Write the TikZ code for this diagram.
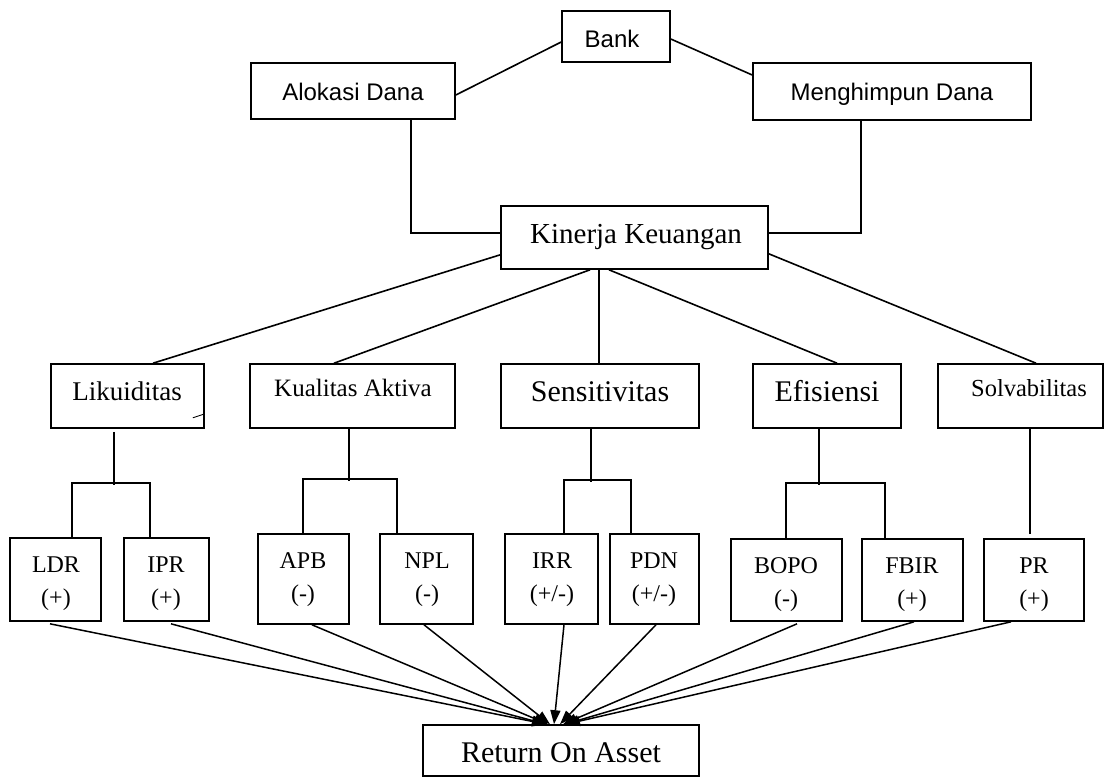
\documentclass[tikz,border=0pt]{standalone}
\usepackage{fontspec}
\setmainfont{Liberation Serif}
\newfontfamily\arialfont{Liberation Sans}
\usetikzlibrary{fit,arrows.meta}
\newcommand\leafnode[8]{%
  \node[box, fit={(#2,#4)(#3,#5)}] (#1) {};
  \node[txt=24] (#1a) at (#6,#4+34) {#7};
  \node[txt=24] (#1b) at (#6,#4+67) {#8};
}
\begin{document}
\begin{tikzpicture}[x=1pt,y=-1pt,line width=1.6pt,
  box/.style={draw, inner sep=0pt, line width=1.6pt},
  txt/.style={font=\fontsize{#1}{#1}\selectfont, inner sep=0pt, anchor=base},
  stxt/.style={font=\arialfont\fontsize{#1}{#1}\selectfont, inner sep=0pt, anchor=base},
  arr/.style={-{Triangle[length=14pt,width=10pt]}, line width=1.5pt}]
\useasboundingbox (0,0) rectangle (1116,780);

% top level
\node[box, fit={(562,11)(670,62)}] (bank) {};
\node[stxt=24] (bankT) at (612,47) {Bank};
\node[box, fit={(251,63)(455,119)}] (alok) {};
\node[stxt=24] (alokT) at (353,100) {Alokasi Dana};
\node[box, fit={(753,63)(1031,120)}] (men) {};
\node[stxt=24] (menT) at (892,100) {Menghimpun Dana};
\node[box, fit={(501,206)(768,269)}] (kin) {};
\node[txt=29] (kinT) at (636,243) {Kinerja Keuangan};

% middle level
\node[box, fit={(51,364)(204,428)}] (lik) {};
\node[txt=27] (likT) at (127,400) {Likuiditas};
\node[box, fit={(250,364)(455,428)}] (kua) {};
\node[txt=25] (kuaT) at (353,396) {Kualitas Aktiva};
\node[box, fit={(501,364)(699,428)}] (sen) {};
\node[txt=30] (senT) at (600,401) {Sensitivitas};
\node[box, fit={(753,364)(901,428)}] (efi) {};
\node[txt=30] (efiT) at (827,401) {Efisiensi};
\node[box, fit={(938,364)(1103,428)}] (sol) {};
\node[txt=24.5] (solT) at (1029,396) {Solvabilitas};

% leaves
\leafnode{ldr}{10}{101}{538}{621}{56}{LDR}{(+)}
\leafnode{ipr}{124}{209}{538}{621}{166}{IPR}{(+)}
\leafnode{apb}{258}{349}{534}{624}{303}{APB}{(-)}
\leafnode{npl}{380}{473}{534}{624}{427}{NPL}{(-)}
\leafnode{irr}{505}{598}{534}{624}{552}{IRR}{(+/-)}
\leafnode{pdn}{610}{699}{534}{624}{654}{PDN}{(+/-)}
\leafnode{bopo}{731}{842}{539}{621}{786}{BOPO}{(-)}
\leafnode{fbir}{862}{963}{539}{621}{912}{FBIR}{(+)}
\leafnode{pr}{984}{1084}{539}{621}{1034}{PR}{(+)}

\node[box, fit={(423,725)(699,776)}] (roa) {};
\node[txt=30] (roaT) at (561,762) {Return On Asset};

% top connectors
\draw ([yshift=-4pt]alok.east) -- ([yshift=-5.5pt]bank.west);
\draw ([yshift=-2.5pt]bank.east) -- ([yshift=16.5pt]men.west);
\draw ([xshift=58pt]alok.south) |- ([yshift=4.5pt]kin.west);
\draw ([xshift=-31pt]men.south) |- ([yshift=4.5pt]kin.east);

% kinerja to categories
\draw ([yshift=15pt]kin.south west) -- ([xshift=25.5pt]lik.north);
\draw ([xshift=-44.5pt]kin.south) -- ([xshift=-18.5pt]kua.north);
\draw ([xshift=-35.5pt]kin.south) coordinate (ks) -- (ks |- sen.north);
\draw ([xshift=-25.5pt]kin.south) -- ([xshift=10pt]efi.north);
\draw ([yshift=16pt]kin.south east) -- ([xshift=15.5pt]sol.north);

% Likuiditas stray tick
\draw[line width=0.9pt] ([xshift=-12pt,yshift=11pt]lik.south east) -- ([yshift=15pt]lik.south east);

% category to leaves
\draw ([xshift=-13.5pt,yshift=-3pt]lik.south) -- ++(0,53);
\draw ([xshift=16.5pt]ldr.north) -- ++(0,-54) -| ([xshift=-16.5pt]ipr.north);
\draw ([xshift=-3.5pt]kua.south) -- ++(0,52);
\draw ([xshift=-0.5pt]apb.north) -- ++(0,-54) -| ([xshift=-29.5pt]npl.north);
\draw ([xshift=-9pt]sen.south) -- ++(0,53);
\draw ([xshift=12.5pt]irr.north) -- ++(0,-53) -| ([xshift=-23.5pt]pdn.north);
\draw ([xshift=-8pt]efi.south) -- ++(0,56);
\draw ([xshift=-0.5pt]bopo.north) -- ++(0,-55) -| ([xshift=-27.5pt]fbir.north);
\draw[shorten >=4pt] ([xshift=9.5pt]sol.south) coordinate (ss) -- (ss |- pr.north);

% arrows to ROA
\draw[arr] ([xshift=-5.5pt,yshift=-2pt]ldr.south) -- ([xshift=-15pt]roa.north);
\draw[arr] ([xshift=4.5pt,yshift=-2pt]ipr.south) -- ([xshift=-15pt]roa.north);
\draw[arr] ([xshift=8.5pt]apb.south) -- ([xshift=-13pt]roa.north);
\draw[arr] ([xshift=-2.5pt]npl.south) -- ([xshift=-11pt]roa.north);
\draw[arr] ([xshift=12.5pt]irr.south) -- ([xshift=-7pt]roa.north);
\draw[arr] ([xshift=1.5pt]pdn.south) -- ([xshift=-1pt]roa.north);
\draw[arr] ([xshift=10.5pt,yshift=-2pt]bopo.south) -- ([xshift=2pt]roa.north);
\draw[arr] ([xshift=1.5pt]fbir.south) -- ([xshift=4pt]roa.north);
\draw[arr] ([xshift=-23pt]pr.south) -- ([xshift=5pt]roa.north);
\end{tikzpicture}
\end{document}
